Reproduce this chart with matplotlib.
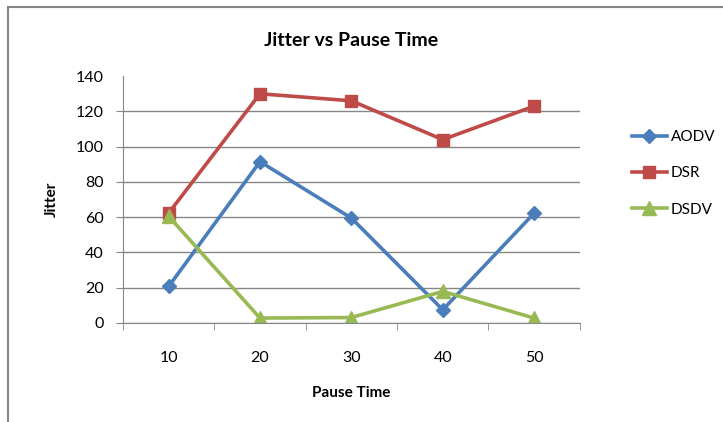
import matplotlib.pyplot as plt
from matplotlib.lines import Line2D
import numpy as np

plt.rcParams['font.family'] = ['Lato', 'DejaVu Sans']

# Jitter measured at each pause time
pause_times = ['10', '20', '30', '40', '50']
aodv = [20.7, 91.5, 59.5, 7.5, 62.3]
dsr = [62.3, 130, 126, 104, 123]
dsdv = [60.5, 2.8, 3.1, 17.9, 2.8]

fig = plt.figure(figsize=(7.23, 4.22), dpi=100)
ax = fig.add_axes([0.170, 0.2346, 0.632, 0.585])

x = np.arange(len(pause_times))
ax.plot(x, aodv, color='#4A7EBB', lw=2.6, marker='D', ms=7.5, label='AODV')
ax.plot(x, dsr, color='#BE4B48', lw=2.6, marker='s', ms=9, label='DSR')
ax.plot(x, dsdv, color='#98B954', lw=2.6, marker='^', ms=9.5, label='DSDV')

ax.set_xlim(-0.5, len(pause_times) - 0.5)
ax.set_ylim(0, 140)
ax.set_yticks(range(0, 141, 20))
ax.yaxis.grid(True, color='#868686', lw=1)
ax.set_axisbelow(True)

# category labels at centers, tick marks at category boundaries
ax.set_xticks(x)
ax.set_xticklabels(pause_times)
ax.set_xticks(np.arange(-0.5, len(pause_times)), minor=True)
ax.tick_params(axis='x', which='major', length=0, pad=20, labelsize=11.5)
ax.tick_params(axis='x', which='minor', length=5, color='#868686', direction='out')
ax.tick_params(axis='y', length=5, color='#868686', labelsize=11.5, pad=9)

# top value has a label but no gridline or tick mark
ax.get_ygridlines()[-1].set_visible(False)
ax.yaxis.get_major_ticks()[-1].tick1line.set_visible(False)

for side in ['top', 'right']:
    ax.spines[side].set_visible(False)
for side in ['left', 'bottom']:
    ax.spines[side].set_color('#868686')

ax.set_xlabel('Pause Time', fontsize=11, fontweight='bold', labelpad=15)
ax.set_ylabel('Jitter', fontsize=11, fontweight='bold', labelpad=12)
ax.set_title('Jitter vs Pause Time', fontsize=14, fontweight='bold', pad=22)

fig.legend(loc='upper left', bbox_to_anchor=(0.855, 0.724), frameon=False,
           fontsize=11, handlelength=2.3, labelspacing=1.45, handletextpad=0.25)

# chart border
fig.add_artist(Line2D([0.011, 0.011], [0, 0.983], color='#868686', lw=1.5,
                      transform=fig.transFigure))
fig.add_artist(Line2D([0.011, 1], [0.983, 0.983], color='#868686', lw=1.5,
                      transform=fig.transFigure))

fig.savefig('out.png', dpi=100)
